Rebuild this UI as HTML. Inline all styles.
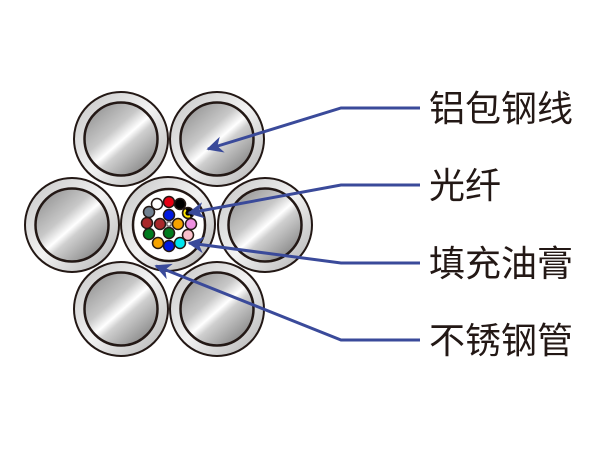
<!DOCTYPE html>
<html><head><meta charset="utf-8"><style>
html,body{margin:0;padding:0;background:#fff;width:600px;height:450px;overflow:hidden}
svg{display:block}
text{font-family:"Liberation Sans","Noto Sans CJK SC",sans-serif;font-size:36px;fill:#231815}
</style></head><body>
<svg width="600" height="450" viewBox="0 0 600 450">
<defs>
<linearGradient id="ring" x1="0" y1="0" x2="1" y2="1">
<stop offset="0" stop-color="#c4c4c4"/><stop offset="0.5" stop-color="#f2f2f2"/><stop offset="1" stop-color="#b0b0b0"/>
</linearGradient>
<linearGradient id="core" x1="0.15" y1="0.1" x2="0.85" y2="0.9">
<stop offset="0" stop-color="#9a9a9a"/><stop offset="0.35" stop-color="#c8c8c8"/><stop offset="0.52" stop-color="#ffffff"/><stop offset="0.62" stop-color="#cfcfcf"/><stop offset="1" stop-color="#8a8a8a"/>
</linearGradient>
<marker id="ah" viewBox="0 0 10 10" refX="9" refY="5" markerWidth="5.5" markerHeight="5.5" orient="auto" markerUnits="strokeWidth">
<path d="M0,0 L10,5 L0,10 L3,5 z" fill="#3a4a9a"/>
</marker>
<g id="wire">
<circle r="47" fill="url(#ring)" stroke="#231815" stroke-width="2"/>
<circle r="36.5" fill="url(#core)" stroke="#231815" stroke-width="2.5"/>
</g>
</defs>
<use href="#wire" x="121" y="139"/>
<use href="#wire" x="217" y="139"/>
<use href="#wire" x="72" y="225"/>
<use href="#wire" x="265" y="225"/>
<use href="#wire" x="121" y="309"/>
<use href="#wire" x="217" y="309"/>
<circle cx="168" cy="224" r="47" fill="url(#ring)" stroke="#231815" stroke-width="2"/>
<circle cx="169" cy="225" r="36" fill="#fff" stroke="#231815" stroke-width="2.5"/>
<g stroke="#231815" stroke-width="1.5">
<circle cx="157" cy="204" r="5.5" fill="#fff"/>
<circle cx="169" cy="202" r="5.5" fill="#e60012"/>
<circle cx="180" cy="204" r="5.5" fill="#000"/>
<circle cx="188" cy="213" r="5.5" fill="#000"/>
<circle cx="191" cy="224" r="5.5" fill="#ee8fe0"/>
<circle cx="188" cy="235" r="5.5" fill="#f9c0cc"/>
<circle cx="180" cy="243" r="5.5" fill="#00e5ef"/>
<circle cx="169" cy="246" r="5.5" fill="#0019e0"/>
<circle cx="158" cy="243" r="5.5" fill="#f5a300"/>
<circle cx="149" cy="234" r="5.5" fill="#007a1e"/>
<circle cx="147" cy="223" r="5.5" fill="#a8282a"/>
<circle cx="149" cy="212" r="5.5" fill="#708090"/>
<circle cx="169" cy="215" r="5.5" fill="#0019e0"/>
<circle cx="160" cy="224" r="5.5" fill="#a8282a"/>
<circle cx="178" cy="224" r="5.5" fill="#f5a300"/>
<circle cx="169" cy="233" r="5.5" fill="#007a1e"/>
</g>
<path d="M186,210 a3.5,3.5 0 1 0 4,6" fill="none" stroke="#ffe600" stroke-width="2"/>
<rect x="167" y="222" width="4" height="4" fill="#fff" stroke="#231815" stroke-width="0.8"/>
<g fill="none" stroke="#3a4a9a" stroke-width="3">
<polyline points="420,108 341,108 208,149" marker-end="url(#ah)"/>
<polyline points="420,185 341,185 189,213" marker-end="url(#ah)"/>
<polyline points="420,263 341,263 189,243" marker-end="url(#ah)"/>
<polyline points="420,340 341,340 156,266" marker-end="url(#ah)"/>
</g>
<text x="429" y="121">铝包钢线</text>
<text x="429" y="198">光纤</text>
<text x="429" y="276">填充油膏</text>
<text x="429" y="353">不锈钢管</text>
</svg>
</body></html>
